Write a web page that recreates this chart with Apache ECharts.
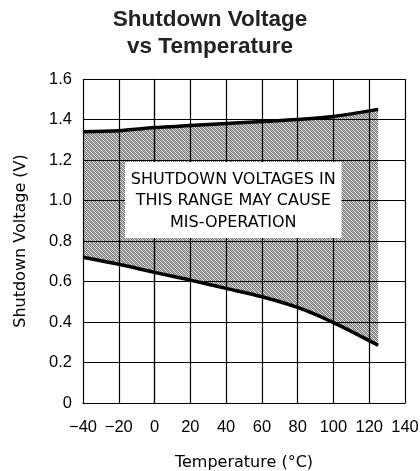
<!DOCTYPE html>
<html>
<head>
<meta charset="utf-8">
<script src="https://cdn.jsdelivr.net/npm/echarts@6/dist/echarts.min.js"></script>
<style>
  html, body { margin: 0; padding: 0; background: #fff; }
  #chart { width: 420px; height: 471px; }
</style>
</head>
<body>
<div id="chart"></div>
<script>
// 温度点 (°C)
const temps = [-40, -20, 0, 20, 40, 60, 80, 100, 125];
// 上边界：关断电压上限 (V)
const upperV = [1.34, 1.345, 1.36, 1.37, 1.38, 1.39, 1.40, 1.415, 1.45];
// 下边界：关断电压下限 (V)
const lowerV = [0.72, 0.685, 0.645, 0.607, 0.566, 0.525, 0.472, 0.397, 0.285];
// 坐标刻度
const xTicks = [-40, -20, 0, 20, 40, 60, 80, 100, 120, 140];
const yTicks = [0, 0.2, 0.4, 0.6, 0.8, 1.0, 1.2, 1.4, 1.6];
// 注释框文字及其数据范围
const noteLines = ['SHUTDOWN VOLTAGES IN', 'THIS RANGE MAY CAUSE', 'MIS-OPERATION'];
const noteBox = { x0: -16.5, x1: 104.5, y0: 0.815, y1: 1.19 };

const techFont = '"DejaVu Sans", sans-serif';
const arialFont = '"Liberation Sans", Arial, sans-serif';

/**
 * 生成阴影填充图案
 */
function makeHatch() {
    const c = document.createElement('canvas');
    c.width = 4;
    c.height = 4;
    const ctx = c.getContext('2d');
    for (let i = 0; i < 4; i++) {
        for (let j = 0; j < 4; j++) {
            let color = '#ececec';
            if ((i + j) % 2 === 0) color = '#7c7c7c';
            else if ((i - j + 4) % 4 === 1) color = '#b4b4b4';
            ctx.fillStyle = color;
            ctx.fillRect(i, j, 1, 1);
        }
    }
    return c;
}

const hatch = makeHatch();
const chart = echarts.init(document.getElementById('chart'));

const pair = (arr) => temps.map((t, i) => [t, arr[i]]);

const option = {
    animation: false,
    title: {
        text: 'Shutdown Voltage\nvs Temperature',
        left: 'center',
        top: 2,
        textStyle: {
            fontFamily: arialFont,
            fontWeight: 'bold',
            fontSize: 22.5,
            lineHeight: 26.5,
            color: '#222'
        }
    },
    grid: {
        left: 83,
        right: 15,
        top: 79,
        bottom: 68,
        outerBoundsMode: 'none'
    },
    xAxis: {
        type: 'value',
        min: -40,
        max: 140,
        interval: 20,
        name: 'Temperature (°C)',
        nameLocation: 'middle',
        nameGap: 52,
        nameTextStyle: { fontFamily: techFont, fontSize: 16, color: '#000' },
        axisLine: { lineStyle: { color: '#000', width: 1.2 } },
        axisTick: { show: false },
        axisLabel: {
            margin: 16,
            fontFamily: arialFont,
            fontSize: 16.5,
            color: '#000',
            formatter: (v) => xTicks.includes(v) ? String(v).replace('-', '\u2212') : ''
        },
        splitLine: { show: true, lineStyle: { color: '#000', width: 1.2 } }
    },
    yAxis: {
        type: 'value',
        min: 0,
        max: 1.6,
        interval: 0.2,
        name: 'Shutdown Voltage (V)',
        nameLocation: 'middle',
        nameGap: 54,
        nameTextStyle: { fontFamily: techFont, fontSize: 16, color: '#000' },
        axisLine: { show: true, lineStyle: { color: '#000', width: 1.2 } },
        axisTick: { show: false },
        axisLabel: {
            margin: 11,
            fontFamily: arialFont,
            fontSize: 16.5,
            color: '#000',
            formatter: (v) => {
                const t = yTicks.find(y => Math.abs(y - v) < 1e-6);
                if (t === undefined) return '';
                return t === 0 ? '0' : t.toFixed(1);
            }
        },
        splitLine: { show: true, lineStyle: { color: '#000', width: 1.2 } }
    },
    series: [
        {
            // 上下边界之间的阴影区域
            name: 'band',
            type: 'custom',
            data: [0],
            z: -1,
            silent: true,
            renderItem: (params, api) => {
                const top = temps.map((t, i) => api.coord([t, upperV[i]]));
                const bottom = temps.map((t, i) => api.coord([t, lowerV[i]])).reverse();
                return {
                    type: 'polygon',
                    shape: { points: top.concat(bottom) },
                    style: { fill: { image: hatch, repeat: 'repeat' } }
                };
            }
        },
        {
            name: 'upper',
            type: 'line',
            data: pair(upperV),
            symbol: 'none',
            smooth: 0.3,
            lineStyle: { color: '#000', width: 3.5 },
            z: 5
        },
        {
            name: 'lower',
            type: 'line',
            data: pair(lowerV),
            symbol: 'none',
            smooth: 0.3,
            lineStyle: { color: '#000', width: 3.5 },
            z: 5
        }
    ]
};

chart.setOption(option);

// 注释框：按数据坐标换算为像素
const p0 = chart.convertToPixel({ gridIndex: 0 }, [noteBox.x0, noteBox.y1]);
const p1 = chart.convertToPixel({ gridIndex: 0 }, [noteBox.x1, noteBox.y0]);
chart.setOption({
    graphic: [
        {
            type: 'rect',
            z: 100,
            shape: { x: p0[0], y: p0[1], width: p1[0] - p0[0], height: p1[1] - p0[1] },
            style: { fill: '#fff' }
        },
        {
            type: 'text',
            z: 101,
            x: (p0[0] + p1[0]) / 2,
            y: (p0[1] + p1[1]) / 2 + 1,
            style: {
                text: noteLines.join('\n'),
                fontFamily: techFont,
                fontSize: 16,
                lineHeight: 21.5,
                fill: '#000',
                align: 'center',
                verticalAlign: 'middle'
            }
        }
    ]
});

window.addEventListener('resize', () => chart.resize());
</script>
</body>
</html>
